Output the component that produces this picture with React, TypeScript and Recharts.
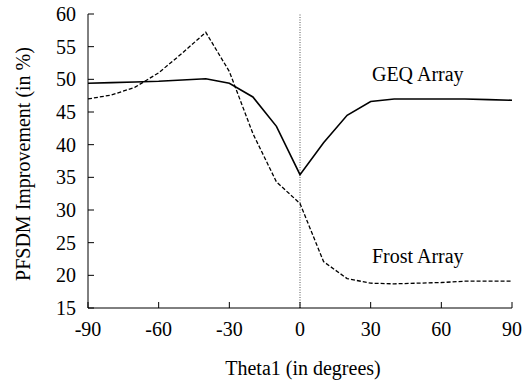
import { CartesianGrid, Label, Line, LineChart, ReferenceDot, ReferenceLine, XAxis, YAxis } from "recharts";

const thetaDeg = [-90, -80, -70, -60, -50, -40, -30, -20, -10, 0, 10, 20, 30, 40, 50, 60, 70, 80, 90];
const geqArray = [49.4, 49.5, 49.6, 49.7, 49.9, 50.1, 49.4, 47.3, 42.8, 35.4, 40.3, 44.5, 46.6, 47.0, 47.0, 47.0, 47.0, 46.9, 46.8];
const frostArray = [47.0, 47.6, 48.8, 51.0, 54.0, 57.2, 51.2, 41.7, 34.3, 31.0, 22.1, 19.5, 18.8, 18.7, 18.8, 18.9, 19.1, 19.1, 19.1];

const xTicks = [-90, -60, -30, 0, 30, 60, 90];
const yTicks = [15, 20, 25, 30, 35, 40, 45, 50, 55, 60];

const font = "'Liberation Serif', 'Times New Roman', serif";

export default function App() {
  const data = thetaDeg.map((t, i) => ({ theta: t, geq: geqArray[i], frost: frostArray[i] }));

  return (
    <div style={{ position: "absolute", left: 0, top: 0, width: 524, height: 381, background: "#fff", fontFamily: font }}>
      <LineChart width={524} height={381} data={data} margin={{ top: 14, right: 12, bottom: 0, left: 0 }}>
        <CartesianGrid stroke="none" />
        <XAxis
          xAxisId="b"
          dataKey="theta"
          type="number"
          domain={[-90, 90]}
          ticks={xTicks}
          height={73}
          stroke="#000"
          tickSize={-6}
          tickMargin={20}
          tick={{ fill: "#000", fontSize: 20, fontFamily: font }}
        >
          <Label value="Theta1 (in degrees)" position="insideBottom" offset={6} dx={3} style={{ fill: "#000", fontSize: 20, fontFamily: font }} />
        </XAxis>
        <XAxis xAxisId="t" dataKey="theta" type="number" domain={[-90, 90]} ticks={xTicks} orientation="top" height={0} stroke="#000" tickSize={-6} tick={false} />
        <YAxis
          yAxisId="l"
          type="number"
          domain={[15, 60]}
          ticks={yTicks}
          width={88}
          stroke="#000"
          tickSize={-6}
          tickMargin={18}
          tick={{ fill: "#000", fontSize: 20, fontFamily: font }}
        >
          <Label value="PFSDM Improvement (in %)" angle={-90} position="insideLeft" offset={23} dy={3} style={{ textAnchor: "middle", fill: "#000", fontSize: 20, fontFamily: font }} />
        </YAxis>
        <YAxis yAxisId="r" type="number" domain={[15, 60]} ticks={yTicks} orientation="right" width={0} stroke="#000" tickSize={-6} tick={false} />
        <ReferenceLine xAxisId="b" yAxisId="l" x={0} stroke="#555" strokeWidth={1} strokeDasharray="1 1.5" />
        <Line xAxisId="b" yAxisId="l" dataKey="geq" stroke="#000" strokeWidth={1.6} dot={false} isAnimationActive={false} />
        <Line xAxisId="b" yAxisId="l" dataKey="frost" stroke="#000" strokeWidth={1.3} strokeDasharray="4 2" dot={false} isAnimationActive={false} />
        <ReferenceDot xAxisId="b" yAxisId="l" x={50} y={50.9} r={0} stroke="none" fill="none" label={{ value: "GEQ Array", position: "center", fill: "#000", fontSize: 20, fontFamily: font }} />
        <ReferenceDot xAxisId="b" yAxisId="l" x={50} y={23} r={0} stroke="none" fill="none" label={{ value: "Frost Array", position: "center", fill: "#000", fontSize: 20, fontFamily: font }} />
      </LineChart>
    </div>
  );
}
